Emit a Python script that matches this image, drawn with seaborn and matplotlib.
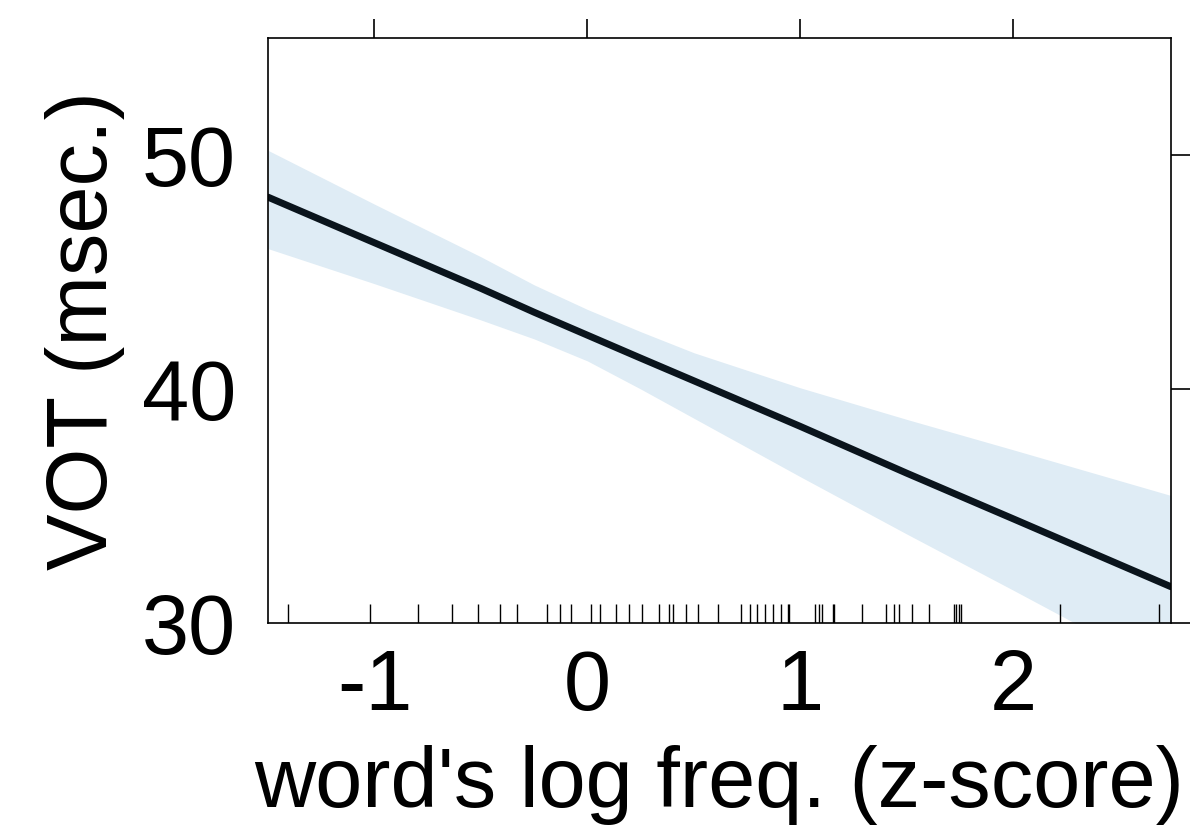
import numpy as np
import pandas as pd
import seaborn as sns
import matplotlib.pyplot as plt

# effect of word frequency on VOT
freq_x = [-1.5, -1.0, -0.5, -0.25, 0.0, 0.25, 0.5, 1.0, 1.5, 2.0, 2.74]
vot_fit = [48.2, 46.25, 44.3, 43.28, 42.3, 41.32, 40.35, 38.4, 36.4, 34.45, 31.55]
vot_lower = [46.0, 44.5, 42.95, 42.14, 41.2, 40.0, 38.75, 36.25, 33.8, 31.4, 27.8]
vot_upper = [50.2, 47.9, 45.65, 44.45, 43.4, 42.45, 41.55, 40.05, 38.7, 37.4, 35.45]

# observed word frequencies (rug)
rug_x = [-1.404, -1.020, -0.796, -0.636, -0.514, -0.412, -0.329, -0.188,
         -0.129, -0.077, 0.016, 0.058, 0.132, 0.196, 0.255, 0.334, 0.381,
         0.403, 0.462, 0.517, 0.611, 0.719, 0.763, 0.797, 0.835, 0.873,
         0.909, 0.940, 0.948, 1.070, 1.086, 1.102, 1.152, 1.158, 1.291,
         1.401, 1.442, 1.465, 1.526, 1.606, 1.722, 1.732, 1.743, 1.754,
         2.220, 2.686]

x_ticks = [-1, 0, 1, 2]
y_ticks = [30, 40, 50]

sns.set_style("white")
plt.rcParams['font.family'] = ['Liberation Sans', 'DejaVu Sans']
plt.rcParams['axes.unicode_minus'] = False
plt.rcParams['text.color'] = 'black'
plt.rcParams['axes.labelcolor'] = 'black'
plt.rcParams['xtick.color'] = 'black'
plt.rcParams['ytick.color'] = 'black'

df = pd.DataFrame({'freq': freq_x, 'fit': vot_fit,
                   'lower': vot_lower, 'upper': vot_upper})

fig = plt.figure(figsize=(11.96, 8.27), dpi=100)
ax = fig.add_axes([0.2241, 0.2467, 0.7549, 0.7073])

ax.fill_between(df['freq'], df['lower'], df['upper'], color="#dfecf5", lw=0)
sns.lineplot(data=df, x='freq', y='fit', color="#0a141c", lw=5, ax=ax)
sns.rugplot(x=rug_x, height=0.033, color="black", lw=1.7, ax=ax)

ax.set_xlim(-1.5, 2.74)
ax.set_ylim(30, 55)
ax.set_xticks(x_ticks)
ax.set_yticks(y_ticks)
ax.set_xlabel("word's log freq. (z-score)", fontsize=61, labelpad=12)
ax.set_ylabel("VOT (msec.)", fontsize=61, labelpad=12)

ax.tick_params(axis='both', which='both', direction='out', length=14,
               width=1.2, colors="black", labelsize=61,
               top=True, right=True, labeltop=False, labelright=False)
ax.tick_params(axis='x', pad=4)
ax.tick_params(axis='y', pad=9)
for s in ax.spines.values():
    s.set_color("black")
    s.set_linewidth(1.2)

plt.savefig("out.png", dpi=100)
